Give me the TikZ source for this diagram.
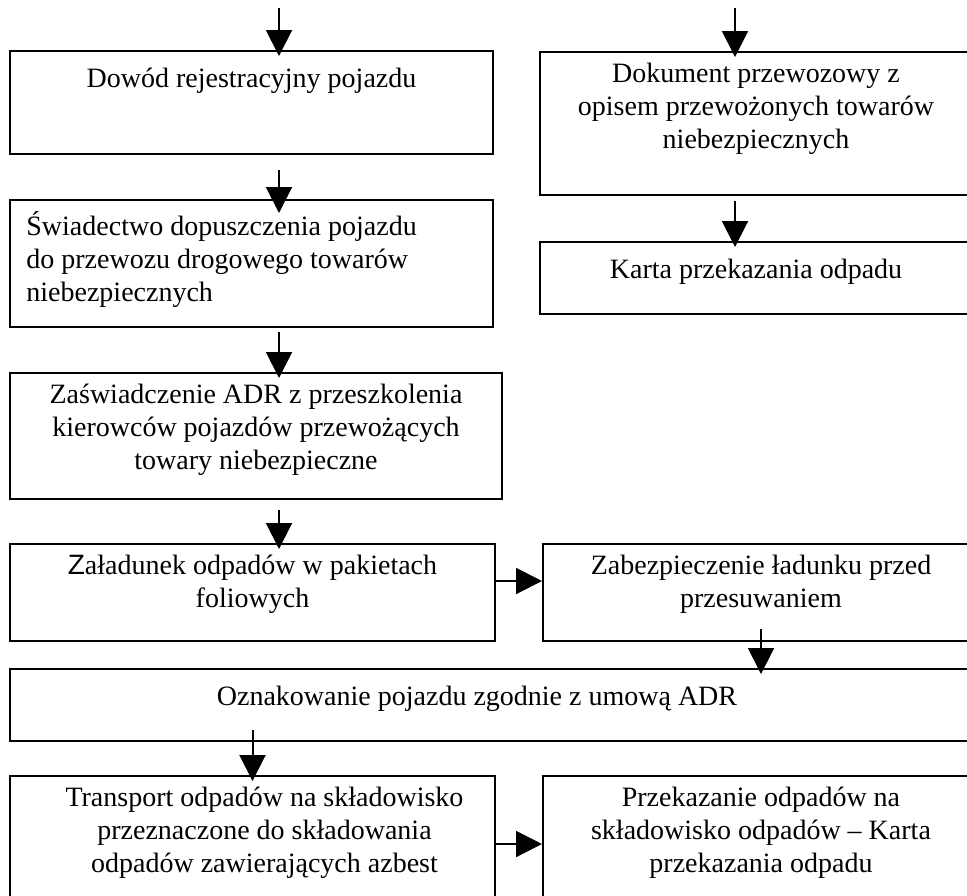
\documentclass[tikz,border=0pt]{standalone}
\usepackage{fontspec}
\setmainfont{Liberation Serif}
\setsansfont{Liberation Sans}
\usetikzlibrary{arrows.meta, positioning}

\tikzset{
    stepbox/.style={rectangle, draw, line width=1pt, inner sep=0pt, anchor=north west},
    boxtext/.style={anchor=north, align=center, inner sep=0pt, font=\fontsize{14}{16.5}\selectfont,
        execute at begin node={\rule{0pt}{12.6pt}}},
    flow/.style={line width=1pt, -{Triangle[length=13pt, width=13pt]}, shorten >=-3pt}
}

\begin{document}
\begin{tikzpicture}[x=0.5pt, y=-0.5pt]
\clip (0,0) rectangle (967,895);

% left column
\node[stepbox, minimum width=241.5pt, minimum height=51.5pt] (dowod) at (9,50) {};
\node[stepbox, minimum width=241.5pt, minimum height=63.5pt] (swiad) at (9,199) {};
\node[stepbox, minimum width=246pt, minimum height=63pt] (zasw) at (9,372) {};
\node[stepbox, minimum width=242.5pt, minimum height=48.5pt] (zalad) at (9,543) {};
\node[stepbox, minimum width=484.5pt, minimum height=36pt] (oznak) at (9,668) {};
\node[stepbox, minimum width=242.5pt, minimum height=68pt] (transp) at (9,775) {};

% right column
\node[stepbox, minimum width=219.5pt, minimum height=71.5pt] (dokument) at (539,51) {};
\node[stepbox, minimum width=219.5pt, minimum height=36pt] (karta) at (539,241) {};
\node[stepbox, minimum width=218pt, minimum height=48.5pt] (zabezp) at (542,543) {};
\node[stepbox, minimum width=218pt, minimum height=68pt] (przek) at (542,775) {};

% texts
\node[boxtext] (dowodT) at ([yshift=-6pt]dowod.north) {Dowód rejestracyjny pojazdu};
\node[boxtext, anchor=north west, align=left] (swiadT) at ([shift={(8.5pt,-6pt)}]swiad.north west)
    {Świadectwo dopuszczenia pojazdu\\do przewozu drogowego towarów\\niebezpiecznych};
\node[boxtext] (zaswT) at ([yshift=-6pt]zasw.north)
    {Zaświadczenie ADR z przeszkolenia\\kierowców pojazdów przewożących\\towary niebezpieczne};
\node[boxtext] (zaladT) at ([yshift=-6pt]zalad.north)
    {{\sffamily Z}aładunek odpadów w pakietach\\foliowych};
\node[boxtext] (oznakT) at ([shift={(-8.75pt,-6pt)}]oznak.north)
    {Oznakowanie pojazdu zgodnie z umową ADR};
\node[boxtext] (transpT) at ([shift={(6pt,-6pt)}]transp.north)
    {Transport odpadów na składowisko\\przeznaczone do składowania\\odpadów zawierających azbest};
\node[boxtext] (dokumentT) at ([shift={(-1.75pt,-6pt)}]dokument.north)
    {Dokument przewozowy z\\opisem przewożonych towarów\\niebezpiecznych};
\node[boxtext] (kartaT) at ([shift={(-1.75pt,-6pt)}]karta.north) {Karta przekazania odpadu};
\node[boxtext] (zabezpT) at ([yshift=-6pt]zabezp.north)
    {Zabezpieczenie ładunku przed\\przesuwaniem};
\node[boxtext] (przekT) at ([yshift=-6pt]przek.north)
    {Przekazanie odpadów na\\składowisko odpadów – Karta\\przekazania odpadu};

% arrows
\coordinate (inL) at (279,8);
\coordinate (inR) at (735,8);
\draw[flow] (inL) -- (inL |- dowod.north);
\draw[flow, shorten >=-7pt] ([yshift=-7.5pt]dowod.south -| inL) -- (swiad.north -| inL);
\draw[flow] ([yshift=-2pt]swiad.south -| inL) -- (zasw.north -| inL);
\draw[flow] ([yshift=-5pt]zasw.south -| inL) -- (zalad.north -| inL);
\draw[flow] (inR) -- (dokument.north -| inR);
\draw[flow] ([yshift=-2.5pt]dokument.south -| inR) -- (karta.north -| inR);
\draw[flow, shorten >=0pt] ([yshift=5.75pt]zalad.east) -- ([yshift=5.75pt]zalad.east -| zabezp.west);
\draw[flow] ([yshift=6.5pt]zabezp.south) -- (oznak.north -| zabezp.south);
\draw[flow] ([yshift=6pt]oznak.south -| transp.north) -- (transp.north);
\draw[flow, shorten >=0pt] (transp.east) -- (transp.east -| przek.west);
\end{tikzpicture}
\end{document}
